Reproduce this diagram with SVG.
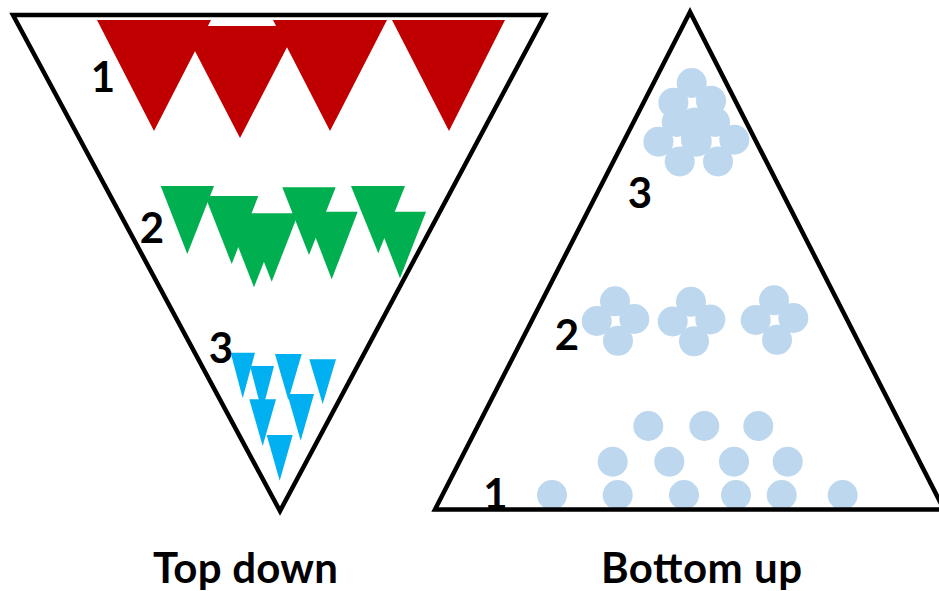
<svg xmlns="http://www.w3.org/2000/svg" xmlns:xlink="http://www.w3.org/1999/xlink" width="939" height="591" viewBox="0 0 939 591">
<style>
.outline{fill:none;stroke:#000;stroke-width:4.5;stroke-linejoin:miter}
.red{fill:#C00000}
.green{fill:#00B050}
.blue{fill:#00B0F0}
.dot{fill:#BDD7EE}
.lbl{font-family:Lato,"Open Sans","Liberation Sans",sans-serif;font-weight:700;font-size:42px;fill:#000;text-anchor:middle}
.title{font-family:Lato,"Open Sans","Liberation Sans",sans-serif;font-weight:700;font-size:42px;fill:#000}
</style>
<defs>
<g id="flower">
<circle class="dot" cx="0" cy="-19.7" r="15"/>
<circle class="dot" cx="-18.3" cy="0" r="15"/>
<circle class="dot" cx="19.3" cy="-2" r="15"/>
<circle class="dot" cx="3" cy="19.8" r="15"/>
</g>
</defs>
<rect width="939" height="591" fill="#fff"/>

<g id="top-down">
<g id="td-level1">
<polygon class="red" points="97,20 211,20 154,131"/>
<polygon class="red" points="182,26 298,26 240,138"/>
<polygon class="red" points="273,20 387,20 330,131"/>
<polygon class="red" points="392,20 505,20 449,131"/>
</g>
<g id="td-level2">
<polygon class="green" points="160.7,186 214,186 187.3,254"/>
<polygon class="green" points="205,196 258.3,196 231.7,264"/>
<polygon class="green" points="227.3,219 280.7,219 254,287.3"/>
<polygon class="green" points="245,213.3 298.4,213.3 271.7,281.7"/>
<polygon class="green" points="282.3,187.3 335.7,187.3 309,255"/>
<polygon class="green" points="305.7,211.7 357.7,211.7 331.7,279.3"/>
<polygon class="green" points="351,186 405,186 378.3,253.3"/>
<polygon class="green" points="374,211.7 426,211.7 400,278.3"/>
</g>
<g id="td-level3">
<polygon class="blue" points="230.7,352.7 255,352.7 242.7,398.3"/>
<polygon class="blue" points="250,366 274,366 262,412"/>
<polygon class="blue" points="249.3,399.3 276,399.3 262.7,446"/>
<polygon class="blue" points="266.7,435 292.7,435 279.7,480.7"/>
<polygon class="blue" points="275,354 301.7,354 288.3,400"/>
<polygon class="blue" points="287.3,394 314,394 300.7,440.7"/>
<polygon class="blue" points="309.3,359.3 336,359.3 322.7,404"/>
</g>
<polygon id="td-frame" class="outline" points="13,15 545,15 280,511"/>
<text class="lbl" x="103" y="92">1</text>
<text class="lbl" x="152" y="243">2</text>
<text class="lbl" x="221" y="363">3</text>
<text class="title" x="153" y="583" textLength="185">Top down</text>
</g>

<g id="bottom-up">
<g id="bu-level1">
<circle class="dot" cx="648.3" cy="426" r="15"/>
<circle class="dot" cx="704.3" cy="426" r="15"/>
<circle class="dot" cx="758.3" cy="426" r="15"/>
<circle class="dot" cx="612.7" cy="461.7" r="15"/>
<circle class="dot" cx="669.3" cy="461.7" r="15"/>
<circle class="dot" cx="734" cy="461.7" r="15"/>
<circle class="dot" cx="787.7" cy="461.7" r="15"/>
<circle class="dot" cx="552" cy="495" r="15"/>
<circle class="dot" cx="617.7" cy="495" r="15"/>
<circle class="dot" cx="684" cy="495" r="15"/>
<circle class="dot" cx="736" cy="495" r="15"/>
<circle class="dot" cx="781.7" cy="495" r="15"/>
<circle class="dot" cx="842.7" cy="495" r="15"/>
</g>
<g id="bu-level2">
<use xlink:href="#flower" href="#flower" x="615" y="321"/>
<use xlink:href="#flower" href="#flower" x="691" y="321.5"/>
<use xlink:href="#flower" href="#flower" x="774" y="320"/>
</g>
<g id="bu-level3">
<use xlink:href="#flower" href="#flower" x="691.7" y="102.7"/>
<use xlink:href="#flower" href="#flower" x="676.7" y="141.7"/>
<use xlink:href="#flower" href="#flower" x="715" y="141.7"/>
</g>
<polygon id="bu-frame" class="outline" points="690,12 435,509.5 944,509.5"/>
<text class="lbl" x="495.5" y="509">1</text>
<text class="lbl" x="567" y="350">2</text>
<text class="lbl" x="640" y="208">3</text>
<text class="title" x="601" y="583" textLength="201">Bottom up</text>
</g>

<g id="connectors"/>
</svg>
